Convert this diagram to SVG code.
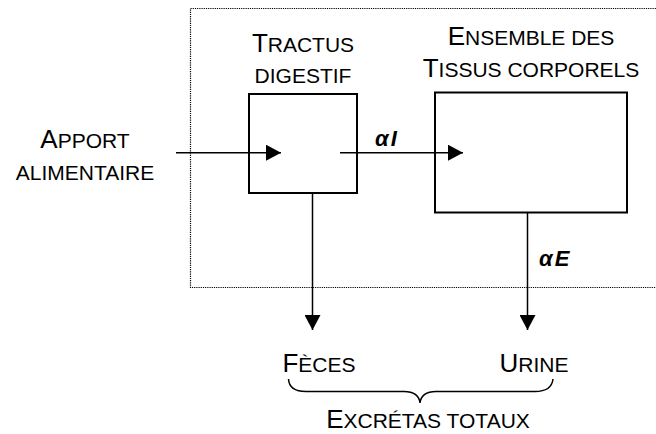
<svg xmlns="http://www.w3.org/2000/svg" width="656" height="434" viewBox="0 0 656 434">
<style>
text{font-family:"Liberation Sans",Arial,sans-serif;fill:#000;font-size:21px}
.big{font-size:26px}
.lbl{font-weight:bold;font-style:italic;font-size:22px;letter-spacing:2px}
.box{fill:#fff;stroke:#000;stroke-width:2}
.conn{stroke:#000;stroke-width:1.5;fill:none}
</style>
<defs>
<marker id="ah" viewBox="0 0 15 16" refX="15" refY="8" markerWidth="15" markerHeight="16" markerUnits="userSpaceOnUse" orient="auto">
<path d="M0,0 L15,8 L0,16 Z" fill="#000"/>
</marker>
</defs>
<rect x="190.5" y="8.5" width="480" height="279" fill="none" stroke="#000" stroke-width="1.2" stroke-dasharray="1.2 1"/>
<g id="tractus">
<rect class="box" x="249" y="94" width="108" height="99"/>
<text x="303" y="51.7" text-anchor="middle"><tspan class="big">T</tspan>RACTUS</text>
<text x="303" y="82.7" text-anchor="middle">DIGESTIF</text>
</g>
<g id="ensemble">
<rect class="box" x="435" y="92.5" width="192" height="120"/>
<text x="531" y="45" text-anchor="middle"><tspan class="big">E</tspan>NSEMBLE DES</text>
<text x="531" y="76.7" text-anchor="middle"><tspan class="big">T</tspan>ISSUS CORPORELS</text>
</g>
<g id="apport">
<text x="85" y="148.3" text-anchor="middle"><tspan class="big">A</tspan>PPORT</text>
<text x="85" y="180" text-anchor="middle">ALIMENTAIRE</text>
</g>
<g id="feces">
<text x="319" y="371.7" text-anchor="middle"><tspan class="big">F</tspan>ÈCES</text>
</g>
<g id="urine">
<text x="534" y="371.7" text-anchor="middle"><tspan class="big">U</tspan>RINE</text>
</g>
<g id="excretas">
<text x="428" y="428.3" text-anchor="middle"><tspan class="big">E</tspan>XCRÉTAS TOTAUX</text>
<path class="conn" d="M288.5,379 C289,388 295,391.5 306,391.5 L404,391.5 C414,391.5 419,395 420,403 C421,395 426,391.5 436,391.5 L535,391.5 C546,391.5 552,388 553,379"/>
</g>
<g id="connectors">
<line class="conn" x1="176" y1="152.7" x2="281" y2="152.7" marker-end="url(#ah)"/>
<line class="conn" x1="340" y1="152.7" x2="463" y2="152.7" marker-end="url(#ah)"/>
<line class="conn" x1="312.5" y1="193" x2="312.5" y2="330" marker-end="url(#ah)"/>
<line class="conn" x1="527.5" y1="212.5" x2="527.5" y2="330" marker-end="url(#ah)"/>
<text class="lbl" x="375" y="145.5">αI</text>
<text class="lbl" x="539" y="266">αE</text>
</g>
</svg>
